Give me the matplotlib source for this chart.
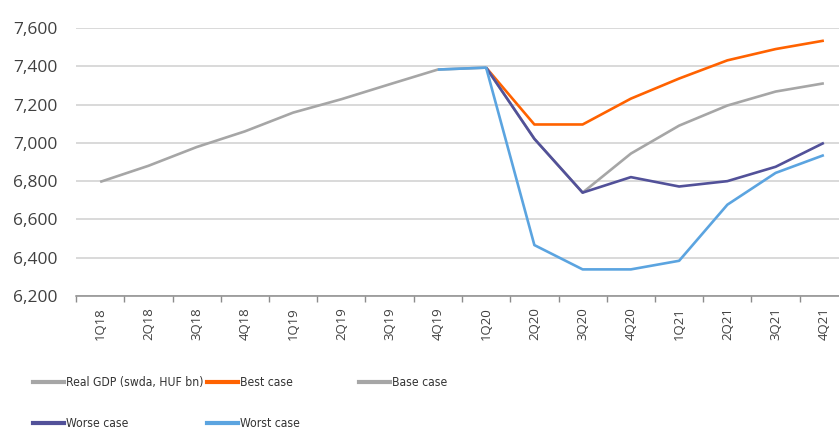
import matplotlib.pyplot as plt
import numpy as np
from matplotlib.lines import Line2D

quarters = ["1Q18", "2Q18", "3Q18", "4Q18", "1Q19", "2Q19", "3Q19", "4Q19",
            "1Q20", "2Q20", "3Q20", "4Q20", "1Q21", "2Q21", "3Q21", "4Q21"]

nan = np.nan
real_gdp = [6796, 6880, 6978, 7060, 7158, 7228, 7306, 7383, 7393,
            nan, nan, nan, nan, nan, nan, nan]
best_case = [nan, nan, nan, nan, nan, nan, nan, nan, 7393,
             7096, 7096, 7231, 7336, 7431, 7490, 7534]
base_case = [nan, nan, nan, nan, nan, nan, nan, nan, 7393,
             7021, 6740, 6944, 7090, 7195, 7268, 7311]
worse_case = [nan, nan, nan, nan, nan, nan, nan, nan, 7393,
              7021, 6740, 6821, 6772, 6800, 6875, 7000]
worst_case = [nan, nan, nan, nan, nan, nan, nan, 7383, 7393,
              6466, 6339, 6339, 6384, 6677, 6843, 6936]

series = [
    ("Real GDP (swda, HUF bn)", real_gdp, "#a6a6a6"),
    ("Best case", best_case, "#ff6200"),
    ("Base case", base_case, "#a6a6a6"),
    ("Worse case", worse_case, "#525199"),
    ("Worst case", worst_case, "#5ba4e0"),
]

plt.rcParams["font.family"] = ["Open Sans", "DejaVu Sans"]

fig = plt.figure(figsize=(8.39, 4.30), dpi=100)
ax = fig.add_axes([76 / 839, 1 - 296 / 430, 772 / 839, 268 / 430])

x = np.arange(len(quarters))
for label, vals, color in series:
    ax.plot(x, vals, color=color, lw=1.9, label=label, solid_capstyle="butt")

ax.set_xlim(-0.5, len(quarters) - 0.5)
ax.set_ylim(6200, 7600)
ax.set_yticks(np.arange(6200, 7601, 200))
ax.set_yticklabels([f"{v:,}" for v in range(6200, 7601, 200)], fontsize=12.5,
                   color="#404040")
ax.grid(axis="y", color="#d0d0d0", lw=1.1)
ax.set_axisbelow(True)

# category ticks sit between quarters, labels at the centres
ax.set_xticks(np.arange(-0.5, len(quarters), 1))
ax.set_xticklabels([])
ax.set_xticks(x, minor=True)
ax.set_xticklabels(quarters, minor=True, rotation=90, fontsize=9.5,
                   color="#404040")
ax.tick_params(axis="x", which="major", length=4, color="#8c8c8c", width=1)
ax.tick_params(axis="x", which="minor", length=0, pad=8)
ax.tick_params(axis="y", length=0, pad=13)

for side in ["top", "right", "left"]:
    ax.spines[side].set_visible(False)
ax.spines["bottom"].set_color("#8c8c8c")
ax.spines["bottom"].set_linewidth(1.1)

# legend laid out column by column
columns = [(33, [0, 3]), (207, [1, 4]), (359, [2])]
for xpos, idx in columns:
    handles = [Line2D([], [], color=series[i][2], lw=3) for i in idx]
    labels = [series[i][0] for i in idx]
    fig.legend(handles, labels, loc="upper left",
               bbox_to_anchor=(xpos / 839, 1 - 376 / 430),
               frameon=False, handlelength=2.6,
               handletextpad=0.15, borderpad=0, borderaxespad=0,
               labelspacing=2.35,
               prop={"family": "DejaVu Sans", "stretch": "condensed",
                     "size": 8.7})
    for text in fig.legends[-1].get_texts():
        text.set_color("#333333")

fig.savefig("out.png", dpi=100)
